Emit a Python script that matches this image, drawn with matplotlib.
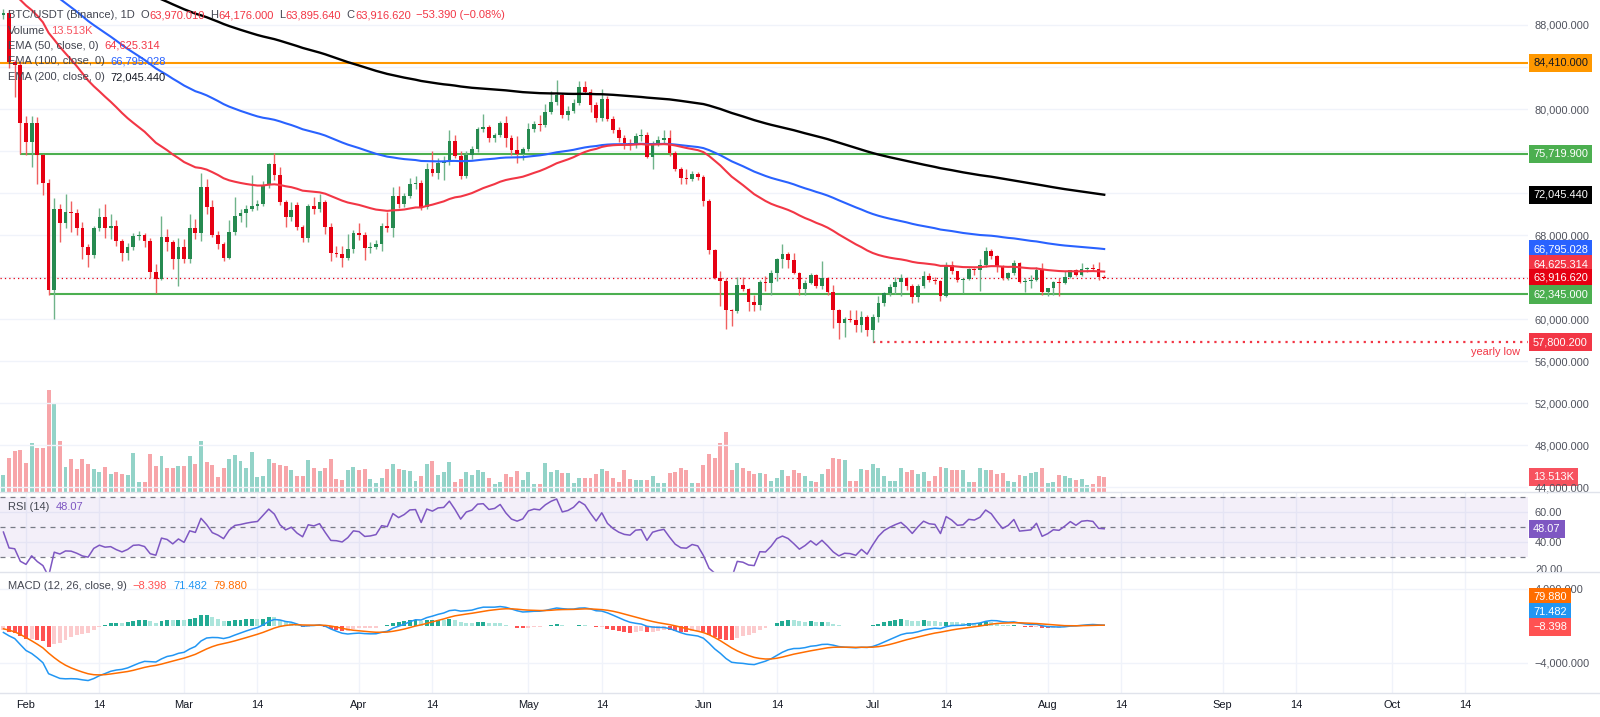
"""BTC/USDT 1D chart (Binance): candles + volume + EMA 50/100/200, RSI(14), MACD(12,26,9).

Layout is fitted to a 1600x717 TradingView screenshot; the series are read off it.
"""
import matplotlib

matplotlib.use('Agg')
import matplotlib.pyplot as plt
import numpy as np
from matplotlib.lines import Line2D
from matplotlib.transforms import Bbox

plt.rcParams['font.family'] = ['Liberation Sans', 'DejaVu Sans']

# bar index 0 = 1 Feb 2026, first bar on screen is 28 Jan (-4), last is 11 Aug (191)
FIRST_BAR = -4
START = np.datetime64('2026-02-01')

opens = [
    89000, 89150, 84500, 84200, 78700, 76900, 78700, 75600, 73000, 62800,
    70500, 69100, 70200, 70050, 68700, 66900, 66100, 68700, 69700, 68700,
    68850, 67400, 66300, 66900, 67900, 68000, 67400, 64500, 63800, 67800,
    67300, 65700, 66900, 65700, 68700, 68200, 72600, 70700, 68000, 67100,
    65800, 68300, 69800, 70100, 70500, 70800, 71000, 72800, 74800, 73700,
    71100, 69700, 70900, 68800, 67700, 70800, 70500, 71100, 68800, 66300,
    66200, 65800, 66700, 68200, 68000, 66800, 66900, 67150, 68900, 68700,
    71700, 70950, 71700, 72900, 73000, 70700, 74300, 73900, 74850, 75000,
    76950, 75500, 73620, 75620, 76190, 78100, 78250, 77240, 77520, 78670,
    77240, 76100, 75710, 76190, 78100, 78570, 78450, 79710, 80670, 81330,
    79450, 79800, 80570, 82100, 81620, 80380, 79140, 80950, 79050, 78000,
    77240, 76760, 76600, 77430, 77520, 75430, 76760, 77050, 77240, 75810,
    74290, 73430, 73330, 73810, 73520, 71240, 66570, 63900, 63620, 60860,
    60760, 63240, 62860, 61620, 61330, 63520, 63430, 64380, 65710, 66190,
    65620, 64380, 62860, 63430, 64190, 63140, 63900, 62570, 60860, 59620,
    60000, 59900, 59430, 60190, 58950, 60220, 61520, 62480, 63050, 63520,
    63900, 63140, 62100, 63140, 64100, 63710, 63620, 62190, 65140, 64570,
    63710, 63800, 64760, 64650, 65140, 66480, 66000, 64950, 63900, 64380,
    65330, 63520, 63620, 63700, 64670, 62570, 62950, 63520, 63430, 64000,
    64670, 64190, 64760, 64850, 64760, 63970.01,
]
highs = [
    89500, 89400, 84700, 84500, 79300, 79300, 79200, 75700, 73300, 71500,
    71000, 71900, 71200, 70500, 69200, 67100, 68900, 70600, 70950, 70000,
    69400, 67600, 67200, 68200, 68400, 68200, 67700, 65200, 69800, 68600,
    67500, 67700, 67600, 70000, 69500, 73900, 73300, 71300, 68400, 67300,
    69400, 71600, 70500, 70900, 73700, 71300, 73100, 74900, 75800, 74500,
    71300, 71100, 71100, 69000, 71000, 71600, 71900, 71300, 69100, 67000,
    67000, 68100, 68500, 69100, 68300, 67300, 67500, 69100, 70200, 72600,
    72700, 72000, 73400, 73600, 73200, 74900, 76000, 75300, 75500, 78000,
    77500, 76000, 76000, 76500, 78300, 79500, 78500, 77700, 78900, 79300,
    77500, 77400, 76400, 78700, 78900, 79400, 80500, 81700, 82760, 81500,
    80300, 81000, 82700, 82700, 81900, 80700, 81900, 81200, 79300, 78300,
    77500, 77100, 77700, 78100, 77800, 77000, 77400, 78000, 78000, 76000,
    74500, 74300, 74100, 74000, 73700, 71400, 66700, 64600, 63900, 61000,
    64000, 64000, 63000, 62300, 63700, 64100, 64700, 65800, 67140, 66400,
    66300, 64500, 63700, 64400, 64300, 65530, 64000, 63200, 61000, 60200,
    60900, 60900, 60800, 60400, 60500, 62200, 62600, 63300, 64000, 64300,
    64000, 63300, 63300, 64600, 64400, 64000, 63700, 65400, 65500, 64600,
    63900, 64900, 64900, 65700, 66900, 66700, 66100, 65100, 64500, 65600,
    65400, 63900, 64200, 65000, 65300, 63000, 63600, 63900, 64600, 64700,
    64800, 65300, 65000, 65200, 65400, 64176.0,
]
lows = [
    88600, 83900, 81100, 75700, 75600, 74500, 72900, 71800, 62300, 60000,
    67300, 68700, 68300, 68000, 65700, 65000, 65800, 68400, 67700, 67600,
    67000, 65500, 65600, 66600, 67500, 66900, 63900, 62500, 63700, 66500,
    64800, 63100, 65300, 65300, 67600, 67400, 70000, 67800, 66700, 65500,
    65700, 68000, 69200, 68800, 70300, 70400, 70800, 72500, 73200, 70900,
    68800, 69300, 68500, 67300, 67300, 70000, 70200, 68100, 65500, 65900,
    65000, 65600, 66300, 67500, 65600, 66300, 66700, 66500, 68300, 67800,
    70600, 70700, 71500, 72400, 70400, 70500, 73600, 73300, 73200, 74700,
    75300, 73300, 73400, 75200, 75900, 77800, 76900, 76900, 77300, 76400,
    75600, 74860, 75100, 76000, 77800, 77900, 78300, 79500, 80400, 79100,
    79000, 79600, 80400, 81400, 79700, 78800, 78900, 78900, 77700, 76900,
    76200, 76100, 76300, 77000, 75300, 74300, 76500, 76800, 75500, 74100,
    72900, 72900, 73100, 73200, 70800, 66200, 63800, 61240, 59050, 59360,
    60600, 62700, 60800, 60800, 60900, 62700, 62300, 63600, 64900, 64900,
    64300, 62300, 62300, 63300, 63000, 62900, 62300, 59100, 58100, 58300,
    59700, 58800, 58800, 58400, 57800.2, 59700, 61200, 62200, 62400, 62200,
    62800, 61500, 61600, 63000, 63500, 63300, 61700, 62100, 64300, 63500,
    62480, 63700, 64200, 62700, 65000, 65700, 64500, 63700, 63700, 64200,
    63400, 62600, 63000, 63600, 62300, 62200, 62300, 62200, 63300, 63900,
    64100, 64100, 64500, 64600, 63700, 63895.64,
]
closes = [
    89150, 84500, 84200, 78700, 76900, 78700, 75600, 73000, 62800, 70500,
    69100, 70200, 70050, 68700, 66900, 66100, 68700, 69700, 68700, 68850,
    67400, 66300, 66900, 67900, 68000, 67400, 64500, 63800, 67800, 67300,
    65700, 66900, 65700, 68700, 68200, 72600, 70700, 68000, 67100, 65800,
    68300, 69800, 70100, 70500, 70800, 71000, 72800, 74800, 73700, 71100,
    69700, 70400, 68800, 67700, 70800, 70500, 71100, 68800, 66300, 66200,
    65800, 66700, 68200, 68000, 66800, 66900, 67150, 68900, 68700, 71700,
    70950, 71700, 72900, 73000, 70700, 74300, 73900, 74850, 75000, 76950,
    75500, 73620, 75620, 76190, 78100, 78250, 77240, 77520, 78670, 77240,
    76100, 75710, 76190, 78100, 78570, 78450, 79710, 80670, 81330, 79450,
    79800, 80570, 82100, 81620, 80380, 79140, 80950, 79050, 78000, 77240,
    76760, 76600, 77430, 77520, 75430, 76760, 77050, 77240, 75810, 74290,
    73430, 73330, 73810, 73520, 71240, 66570, 63900, 63620, 60860, 60760,
    63240, 62860, 61620, 61330, 63520, 63430, 64380, 65710, 66190, 65620,
    64380, 62860, 63430, 64190, 63140, 63900, 62570, 60860, 59620, 60000,
    59900, 59430, 60190, 58950, 60220, 61520, 62480, 63050, 63520, 63900,
    63140, 62100, 63140, 64100, 63710, 63620, 62190, 65140, 64570, 63710,
    63800, 64760, 64650, 65140, 66480, 66000, 64950, 63900, 64380, 65330,
    63520, 63620, 63700, 64670, 62570, 62950, 63520, 63430, 64000, 64670,
    64190, 64760, 64850, 64760, 63970.01, 63916.62,
]
# volume in thousand BTC
volumes = [
    14.7, 30.3, 35.9, 37.4, 25.6, 43.3, 39.2, 39.2, 90.0, 78.0,
    44.8, 22.1, 29.4, 20.6, 29.4, 24.4, 20.6, 17.7, 22.1, 15.6,
    17.7, 16.2, 14.7, 34.5, 8.8, 8.8, 33.9, 22.7, 31.5, 21.5,
    21.5, 23.0, 23.0, 31.5, 25.0, 45.0, 26.5, 23.6, 13.3, 21.5,
    28.9, 32.4, 27.1, 21.5, 35.3, 13.3, 13.8, 28.9, 25.6, 24.1,
    23.0, 19.1, 13.8, 13.8, 28.0, 21.5, 18.3, 21.5, 28.9, 11.2,
    10.3, 19.1, 22.1, 19.1, 20.6, 11.8, 8.0, 12.7, 20.6, 25.0,
    20.6, 19.1, 18.3, 9.4, 14.1, 25.0, 27.4, 14.7, 17.7, 26.5,
    8.8, 11.8, 17.7, 14.7, 19.7, 17.7, 12.7, 6.8, 8.8, 15.6,
    13.3, 18.3, 10.3, 17.7, 7.4, 7.4, 25.6, 17.7, 19.1, 16.8,
    16.8, 8.0, 12.7, 12.7, 12.7, 15.6, 20.6, 18.3, 12.7, 8.8,
    19.1, 11.8, 10.9, 10.9, 10.9, 14.1, 8.0, 8.0, 16.8, 17.7,
    21.5, 19.1, 8.0, 8.0, 23.6, 33.9, 30.0, 43.3, 53.0, 19.7,
    25.9, 21.2, 18.6, 16.2, 17.1, 16.2, 9.7, 12.7, 19.1, 13.8,
    19.1, 17.1, 13.8, 9.7, 8.8, 15.6, 20.6, 30.3, 29.4, 28.0,
    9.7, 9.4, 20.6, 19.7, 24.4, 21.5, 13.8, 9.4, 9.4, 21.2,
    17.7, 19.1, 16.2, 17.7, 9.4, 13.8, 22.1, 21.5, 19.1, 19.1,
    19.1, 8.8, 8.8, 21.5, 19.1, 19.1, 15.6, 17.1, 9.4, 8.8,
    15.3, 13.8, 17.1, 17.7, 21.5, 8.0, 8.8, 15.3, 13.8, 12.4,
    10.9, 11.8, 5.9, 7.4, 13.8, 13.513,
]

EMA_SEEDS = {50: 91500, 100: 94000, 200: 97100}
PREV_CLOSE = 89000
RSI_SEED_GAIN, RSI_SEED_LOSS = 600, 700
MACD_SEED_FAST, MACD_SEED_SLOW, MACD_SEED_SIGNAL = 89800, 90500, -200

# drawn levels
RESISTANCE = 84410.0
SUPPORT_HIGH, SUPPORT_HIGH_FROM = 75719.9, -1
SUPPORT_LOW, SUPPORT_LOW_FROM = 62345.0, 4
YEARLY_LOW, YEARLY_LOW_FROM = 57800.2, 150

# price scale ticks; the ones under a value badge are hidden, as on screen
price_ticks = list(range(44000, 92000, 4000))
hidden_price_ticks = [64000, 72000, 84000]

tick_dates = ['2026-02-01', '2026-02-14', '2026-03-01', '2026-03-14', '2026-04-01',
              '2026-04-14', '2026-05-01', '2026-05-14', '2026-06-01', '2026-06-14',
              '2026-07-01', '2026-07-14', '2026-08-01', '2026-08-14', '2026-09-01',
              '2026-09-14', '2026-10-01', '2026-10-14']
tick_labels = ['Feb', '14', 'Mar', '14', 'Apr', '14', 'May', '14', 'Jun', '14',
               'Jul', '14', 'Aug', '14', 'Sep', '14', 'Oct', '14']

# legend strings as shown by TradingView
LAST = {'o': '63,970.010', 'h': '64,176.000', 'l': '63,895.640', 'c': '63,916.620',
        'chg': '\u221253.390 (\u22120.08%)'}
EMA_LABELS = {50: '64,625.314', 100: '66,795.028', 200: '72,045.440'}
VOL_LABEL = '13.513K'
RSI_LABEL = '48.07'
MACD_LABELS = {'hist': '\u22128.398', 'macd': '71.482', 'signal': '79.880'}


def ema(values, n, seed):
    a = 2.0 / (n + 1)
    out, e = [], seed
    for v in values:
        e += a * (v - e)
        out.append(e)
    return np.array(out)


def rsi(values, prev, gain, loss, n=14):
    out = []
    for v in values:
        ch = v - prev
        gain = (gain * (n - 1) + max(ch, 0)) / n
        loss = (loss * (n - 1) + max(-ch, 0)) / n
        out.append(100 - 100 / (1 + gain / loss))
        prev = v
    return np.array(out)


# ---- layout (pixels of the 1600x717 screenshot) ----
W, H = 1600, 717
PLOT_RIGHT = 1528
FEB1_PX, BAR_PX = 26, 5.645
P_TOP, P_BOT = 0, 492
R_BOT = 572
M_BOT = 693

UP, DOWN = '#268a50', '#e60012'
UP_WICK, DOWN_WICK = '#6fb38a', '#f06060'
VOL_UP, VOL_DOWN = '#93d3c8', '#f7a5a9'
GRID = '#f0f3fa'
AXIS_TXT = '#50535e'
LEG_TXT = '#434651'
FS = 7.9

o, h, l, c = (np.array(a, dtype=float) for a in (opens, highs, lows, closes))
v = np.array(volumes)
x = np.arange(FIRST_BAR, FIRST_BAR + len(c))
up = c >= o

ema_lines = {n: ema(c, n, s) for n, s in EMA_SEEDS.items()}
rsi_line = rsi(c, PREV_CLOSE, RSI_SEED_GAIN, RSI_SEED_LOSS)
macd = ema(c, 12, MACD_SEED_FAST) - ema(c, 26, MACD_SEED_SLOW)
signal = ema(macd, 9, MACD_SEED_SIGNAL)
hist = macd - signal

fig = plt.figure(figsize=(W / 100, H / 100), dpi=100)


def rect(top, bottom):
    return [0, 1 - bottom / H, PLOT_RIGHT / W, (bottom - top) / H]


ax_p = fig.add_axes(rect(P_TOP, P_BOT))
ax_v = ax_p.twinx()
ax_v.set_zorder(ax_p.get_zorder() - 1)
ax_p.patch.set_visible(False)
ax_r = fig.add_axes(rect(P_BOT, R_BOT), sharex=ax_p)
ax_m = fig.add_axes(rect(R_BOT, M_BOT), sharex=ax_p)

xlim = (-FEB1_PX / BAR_PX, (PLOT_RIGHT - FEB1_PX) / BAR_PX)
ax_p.set_xlim(*xlim)
ax_p.set_ylim(88000 - (P_BOT - 25) / 0.0105, 88000 + 25 / 0.0105)
ax_v.set_ylim(0, (P_BOT - P_TOP) / 1.132)
ax_r.set_ylim(20, 20 + (R_BOT - P_BOT) / 1.5)
ax_m.set_ylim(-(M_BOT - 626) / 9.25 * 1000, (626 - R_BOT) / 9.25 * 1000)

tick_pos = (np.array(tick_dates, dtype='datetime64[D]') - START).astype(int)
for ax in (ax_p, ax_v, ax_r, ax_m):
    for s in ax.spines.values():
        s.set_visible(False)
    ax.set_xticks(tick_pos)
    ax.tick_params(axis='x', length=0, labelbottom=False)
ax_m.set_xticklabels(tick_labels)
ax_m.tick_params(axis='x', labelbottom=True, pad=5, labelsize=FS, labelcolor='#131722')
for ax in (ax_v, ax_r, ax_m):
    ax.grid(axis='x', color=GRID, lw=1)
    ax.set_axisbelow(True)
ax_v.set_yticks([])

# price scale
ax_p.yaxis.tick_right()
ax_p.set_yticks(price_ticks)
ax_p.yaxis.set_major_formatter(
    lambda val, pos: '' if round(val) in hidden_price_ticks else f'{val:,.3f}')
ax_p.tick_params(axis='y', length=0, pad=5, labelsize=FS, labelcolor=AXIS_TXT)
ax_p.grid(axis='y', color=GRID, lw=1)
ax_p.set_axisbelow(True)

# volume
ax_v.bar(x, v, width=0.7, color=np.where(up, VOL_UP, VOL_DOWN), lw=0)

# candles
ax_p.vlines(x, l, h, colors=np.where(up, UP_WICK, DOWN_WICK), lw=1.0, zorder=3)
ax_p.bar(x, np.maximum(np.abs(c - o), 90), bottom=np.minimum(o, c), width=0.66,
         color=np.where(up, UP, DOWN), lw=0, zorder=4)

# EMAs
ax_p.plot(x, ema_lines[200], color='#000000', lw=1.7, zorder=5)
ax_p.plot(x, ema_lines[100], color='#2962ff', lw=1.5, zorder=5)
ax_p.plot(x, ema_lines[50], color='#f23645', lw=1.5, zorder=5)

# levels
ax_p.axhline(RESISTANCE, color='#ff9800', lw=1.5, zorder=2)
ax_p.hlines(SUPPORT_HIGH, SUPPORT_HIGH_FROM, xlim[1], color='#4caf50', lw=1.5, zorder=2)
ax_p.hlines(SUPPORT_LOW, SUPPORT_LOW_FROM, xlim[1], color='#4caf50', lw=1.5, zorder=2)
ax_p.axhline(c[-1], color='#e60012', lw=0.9, ls=(0, (1, 2.5)), zorder=2)
ax_p.hlines(YEARLY_LOW, YEARLY_LOW_FROM, xlim[1], color='#f23645', lw=1.6,
            ls=(0, (1, 2.2)), zorder=2)
ax_p.annotate('yearly low', xy=(1, YEARLY_LOW), xycoords=ax_p.get_yaxis_transform(),
              xytext=(-6, -7), textcoords='offset points', ha='right', va='center',
              fontsize=FS, color='#f23645')

# RSI
ax_r.axhspan(30, 70, color='#7e57c2', alpha=0.09, lw=0)
for lvl in (70, 50, 30):
    ax_r.axhline(lvl, color='#787b86', lw=0.9, ls=(0, (4, 4)))
ax_r.plot(x, rsi_line, color='#7e57c2', lw=1.1)
ax_r.yaxis.tick_right()
ax_r.set_yticks([40, 60])
ax_r.yaxis.set_major_formatter(lambda val, pos: f'{val:.2f}')
ax_r.tick_params(axis='y', length=0, pad=5, labelsize=FS, labelcolor=AXIS_TXT)
ax_r.grid(axis='y', color=GRID, lw=1)

# MACD
prev = np.concatenate([[hist[0]], hist[:-1]])
hcol = np.where(hist >= 0, np.where(hist > prev, '#22ab94', '#ace5dc'),
                np.where(hist < prev, '#ff5252', '#fccbcd'))
ax_m.bar(x, hist, width=0.7, color=hcol, lw=0)
ax_m.plot(x, macd, color='#2196f3', lw=1.1)
ax_m.plot(x, signal, color='#ff6d00', lw=1.1)
ax_m.yaxis.tick_right()
ax_m.set_yticks([-4000, 4000])
ax_m.yaxis.set_major_formatter(lambda val, pos: f'{val:,.3f}'.replace('-', '\u2212'))
ax_m.tick_params(axis='y', length=0, pad=5, labelsize=FS, labelcolor=AXIS_TXT)
ax_m.grid(axis='y', color=GRID, lw=1)


def badge(ax, value, text, fc, tc='white', dy_px=0):
    ax.annotate(text, xy=(1, value), xycoords=ax.get_yaxis_transform(),
                xytext=(3.6, dy_px * 0.72), textcoords='offset points',
                ha='left', va='center', fontsize=FS, color=tc, zorder=10,
                annotation_clip=False,
                bbox=dict(boxstyle='square,pad=0.38', fc=fc, ec='none'))


badge(ax_p, RESISTANCE, '84,410.000', '#ff9800', tc='#131722')
badge(ax_p, SUPPORT_HIGH, '75,719.900', '#4caf50')
badge(ax_p, ema_lines[200][-1], EMA_LABELS[200], '#000000')
badge(ax_p, ema_lines[100][-1], EMA_LABELS[100], '#2962ff')
badge(ax_p, ema_lines[50][-1], EMA_LABELS[50], '#f23645', dy_px=7)
badge(ax_p, c[-1], LAST['c'], '#e60012')
badge(ax_p, SUPPORT_LOW, '62,345.000', '#4caf50')
badge(ax_p, YEARLY_LOW, '57,800.200', '#f23645')
badge(ax_v, v[-1], VOL_LABEL, '#f7525f')
badge(ax_r, rsi_line[-1], RSI_LABEL, '#7e57c2')
badge(ax_m, 0, MACD_LABELS['signal'], '#ff6d00', dy_px=29)
badge(ax_m, 0, MACD_LABELS['macd'], '#2196f3', dy_px=14)
badge(ax_m, 0, MACD_LABELS['hist'], '#ff5252', dy_px=-1)

# RSI "20.00" sits on the pane border and is cut by it
t20 = fig.text(1535 / W, 1 - 570 / H, '20.00', fontsize=FS, color=AXIS_TXT,
               ha='left', va='center')
t20.set_clip_box(Bbox([[PLOT_RIGHT, H - R_BOT], [W, H - P_BOT]]))
t20.set_clip_on(True)

# pane separators
for yy in (P_BOT, R_BOT, M_BOT):
    fig.add_artist(Line2D([0, 1], [1 - yy / H] * 2, transform=fig.transFigure,
                          color='#e0e3eb', lw=1))

renderer = fig.canvas.get_renderer()


def flow(x_px, y_px, parts, size=8.0):
    for text, color, gap in parts:
        t = fig.text(x_px / W, 1 - y_px / H, text, color=color, fontsize=size,
                     ha='left', va='center')
        x_px += t.get_window_extent(renderer).width + gap


RED_TXT = '#f23645'
flow(8, 15, [('BTC/USDT (Binance), 1D', LEG_TXT, 6),
             ('O', LEG_TXT, 0.5), (LAST['o'], RED_TXT, 5),
             ('H', LEG_TXT, 0.5), (LAST['h'], RED_TXT, 5),
             ('L', LEG_TXT, 0.5), (LAST['l'], RED_TXT, 5),
             ('C', LEG_TXT, 0.5), (LAST['c'], RED_TXT, 5),
             (LAST['chg'], RED_TXT, 0)])
flow(8, 31, [('Volume', LEG_TXT, 6), (VOL_LABEL, '#f7525f', 0)])
flow(8, 46, [('EMA (50, close, 0)', LEG_TXT, 6), (EMA_LABELS[50], RED_TXT, 0)])
flow(8, 61, [('EMA (100, close, 0)', LEG_TXT, 6), (EMA_LABELS[100], '#2962ff', 0)])
flow(8, 77, [('EMA (200, close, 0)', LEG_TXT, 6), (EMA_LABELS[200], '#131722', 0)])
flow(8, 507, [('RSI (14)', LEG_TXT, 6), (RSI_LABEL, '#7e57c2', 0)])
flow(8, 586, [('MACD (12, 26, close, 9)', LEG_TXT, 6), (MACD_LABELS['hist'], '#ff5252', 6),
              (MACD_LABELS['macd'], '#2196f3', 6), (MACD_LABELS['signal'], '#ff6d00', 0)])

fig.savefig('out.png', dpi=100, facecolor='white')
